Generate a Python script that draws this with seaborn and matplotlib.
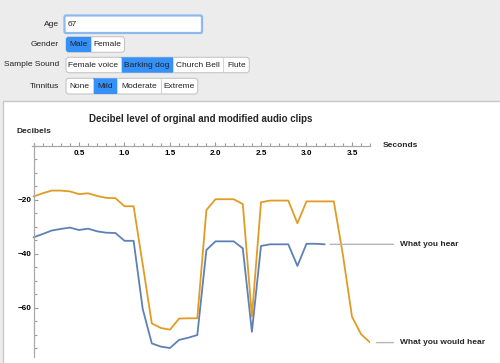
import matplotlib
matplotlib.use("Agg")
import matplotlib.pyplot as plt
import seaborn as sns
import pandas as pd
from matplotlib.patches import FancyBboxPatch, Rectangle
from matplotlib.ticker import FixedLocator, MultipleLocator

# ---------------- data ----------------
time_original = [0.0, 0.1, 0.2, 0.3, 0.4, 0.5, 0.6, 0.7, 0.8, 0.9,
                 1.0, 1.1, 1.2, 1.3, 1.4, 1.5, 1.6, 1.7, 1.8, 1.9,
                 2.0, 2.1, 2.2, 2.3, 2.4, 2.5, 2.6, 2.7, 2.8, 2.9,
                 3.0, 3.1, 3.2, 3.3, 3.4, 3.5, 3.6, 3.7]
db_original = [-18.9, -17.7, -16.7, -16.7, -17.0, -18.0, -17.7, -18.7, -19.4, -19.5,
               -22.5, -22.5, -44.0, -65.9, -67.6, -68.2, -64.1, -64.0, -64.0, -23.9,
               -19.9, -19.9, -19.9, -21.7, -63.4, -21.0, -20.4, -20.4, -20.4, -28.8,
               -20.7, -20.7, -20.7, -20.7, -40.5, -63.4, -69.9, -73.0]

time_modified = [0.0, 0.1, 0.2, 0.3, 0.4, 0.5, 0.6, 0.7, 0.8, 0.9,
                 1.0, 1.1, 1.2, 1.3, 1.4, 1.5, 1.6, 1.7, 1.8, 1.9,
                 2.0, 2.1, 2.2, 2.3, 2.4, 2.5, 2.6, 2.7, 2.8, 2.9,
                 3.0, 3.1, 3.2]
db_modified = [-34.0, -32.8, -31.5, -30.9, -30.4, -31.3, -30.8, -31.8, -32.3, -32.4,
               -35.3, -35.3, -60.5, -73.3, -74.5, -75.0, -72.0, -71.2, -70.2, -38.7,
               -35.5, -35.5, -35.5, -38.1, -69.0, -37.2, -36.6, -36.6, -36.6, -44.6,
               -36.4, -36.4, -36.6]

x_major_ticks = [0.5, 1.0, 1.5, 2.0, 2.5, 3.0, 3.5]
y_major_ticks = [-20, -40, -60]

title = "Decibel level of orginal and modified audio clips"
label_modified = "What you hear"
label_original = "What you would hear"

# UI controls
ui_rows = ["Age", "Gender", "Sample Sound", "Tinnitus"]
age_value = "67"
gender_opts = ["Male", "Female"]
sound_opts = ["Female voice", "Barking dog", "Church Bell", "Flute"]
tinnitus_opts = ["None", "Mild", "Moderate", "Extreme"]

ORANGE = "#E09C24"
BLUE = "#5E81B5"

# ---------------- style ----------------
sns.set_theme(style="white")
plt.rcParams["font.family"] = ["Liberation Sans", "DejaVu Sans"]
plt.rcParams["axes.unicode_minus"] = True

W, H = 500, 363
fig = plt.figure(figsize=(5.0, 3.63), dpi=100, facecolor="#ececec")

# background / UI layer in pixel coordinates
bg = fig.add_axes([0, 0, 1, 1], zorder=0)
bg.set_xlim(0, W)
bg.set_ylim(H, 0)
bg.axis("off")
bg.add_patch(Rectangle((3, 100.5), 520, 280, facecolor="white",
                       edgecolor="#c8c8c8", lw=1))

ui_font = dict(fontsize=6.0, color="#222222", fontweight="normal")

row_y = [24.5, 44.5, 65.0, 86.0]
for name, yy in zip(ui_rows, row_y):
    bg.text(59, yy, name, ha="right", va="center", **ui_font)

# Age input field
bg.add_patch(FancyBboxPatch((64.5, 15.5), 137.5, 17.5,
                            boxstyle="round,pad=0,rounding_size=1.5",
                            facecolor="white", edgecolor="#8db9ee", lw=1.6))
bg.text(68, 24.5, age_value, ha="left", va="center", **ui_font)


def segmented(edges, y0, y1, labels, sel):
    outer = FancyBboxPatch((edges[0], y0), edges[-1] - edges[0], y1 - y0,
                           boxstyle="round,pad=0,rounding_size=3",
                           facecolor="white", edgecolor="#c6c6c6", lw=0.8,
                           zorder=1)
    bg.add_patch(outer)
    for i, lab in enumerate(labels):
        xa, xb = edges[i], edges[i + 1]
        if i == sel:
            r = Rectangle((xa, y0), xb - xa, y1 - y0, facecolor="#3590f8",
                          edgecolor="none", zorder=2)
            bg.add_patch(r)
            r.set_clip_path(outer)
        if i > 0:
            bg.plot([xa, xa], [y0 + 0.5, y1 - 0.5], color="#d4d4d4", lw=0.7,
                    zorder=3)
        bg.text((xa + xb) / 2, (y0 + y1) / 2 + 0.3, lab, ha="center",
                va="center", zorder=4, **ui_font)


segmented([66, 91, 124.5], 36.7, 52.3, gender_opts, 0)
segmented([66, 121, 173.3, 223.3, 249.3], 57.3, 72.7, sound_opts, 1)
segmented([66, 92.5, 117.3, 160.7, 197.7], 78.3, 94, tinnitus_opts, 1)

# ---------------- chart ----------------
PX_S, PX_DB, X0, Y0 = 91.0, 2.7, 33.5, 145.5
xmin, xmax, ymin, ymax = -0.02, 3.70, -78.5, 1.0
left = X0 + xmin * PX_S
right = X0 + xmax * PX_S
top = Y0 - ymax * PX_DB
bottom = Y0 - ymin * PX_DB
ax = fig.add_axes([left / W, 1 - bottom / H, (right - left) / W, (bottom - top) / H],
                  zorder=2)
ax.patch.set_alpha(0)

df_mod = pd.DataFrame({"time": time_modified, "db": db_modified})
df_org = pd.DataFrame({"time": time_original, "db": db_original})
sns.lineplot(data=df_mod, x="time", y="db", ax=ax, color=BLUE, lw=1.3)
sns.lineplot(data=df_org, x="time", y="db", ax=ax, color=ORANGE, lw=1.3)

ax.set_xlim(xmin, xmax)
ax.set_ylim(ymin, ymax)
ax.set_xlabel("")
ax.set_ylabel("")

for s in ["top", "right"]:
    ax.spines[s].set_visible(False)
for s in ["left", "bottom"]:
    ax.spines[s].set_position(("data", 0))
    ax.spines[s].set_color("#a9a9a9")
    ax.spines[s].set_linewidth(0.9)

ax.xaxis.set_major_locator(FixedLocator(x_major_ticks))
ax.xaxis.set_minor_locator(MultipleLocator(0.1))
ax.yaxis.set_major_locator(FixedLocator(y_major_ticks))
ax.yaxis.set_minor_locator(MultipleLocator(5))
ax.xaxis.set_major_formatter(lambda v, p: f"{v:.1f}")
ax.yaxis.set_major_formatter(lambda v, p: f"\u2212{abs(v):.0f}")

ax.tick_params(axis="both", which="both", direction="in", color="#9a9a9a",
               width=0.8, labelsize=5.9, labelcolor="black")
ax.tick_params(axis="both", which="major", length=3.2)
ax.tick_params(axis="both", which="minor", length=2.0)
ax.tick_params(axis="x", which="both", bottom=True, top=False, pad=3.0)
ax.tick_params(axis="y", which="both", left=True, right=False, pad=1.5)
for lbl in ax.get_xticklabels() + ax.get_yticklabels():
    lbl.set_fontweight("bold")

ax.set_title(title, fontsize=7.0, fontweight="bold", pad=15, loc="center")
ax.text(0, 5.1, "Decibels", ha="center", va="center", fontsize=6.0,
        fontweight="bold", clip_on=False)
ax.text(3.84, 0, "Seconds", ha="left", va="center", fontsize=6.0,
        fontweight="bold", clip_on=False)

label_x = 4.03
ax.annotate(label_modified, xy=(time_modified[-1] + 0.06, db_modified[-1]),
            xytext=(label_x, db_modified[-1]), ha="left", va="center",
            fontsize=6.0, fontweight="bold", annotation_clip=False,
            arrowprops=dict(arrowstyle="-", color="#b5b5b5", lw=1.0,
                            shrinkA=2.5, shrinkB=0))
ax.annotate(label_original, xy=(time_original[-1] + 0.07, db_original[-1]),
            xytext=(label_x, db_original[-1]), ha="left", va="center",
            fontsize=6.0, fontweight="bold", annotation_clip=False,
            arrowprops=dict(arrowstyle="-", color="#b5b5b5", lw=1.0,
                            shrinkA=2.5, shrinkB=0))

fig.savefig("out.png", dpi=100, facecolor=fig.get_facecolor())
